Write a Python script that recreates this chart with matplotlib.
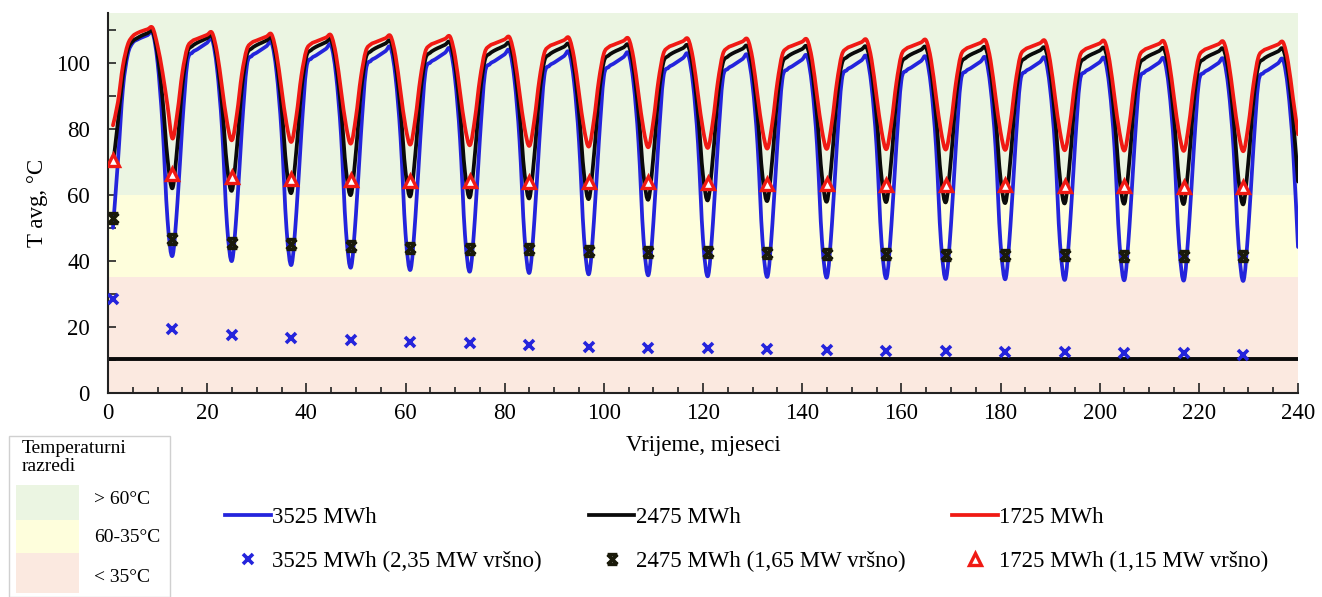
import numpy as np
import matplotlib
matplotlib.use('Agg')
import matplotlib.pyplot as plt
from matplotlib.path import Path
from matplotlib.patches import PathPatch, Rectangle
from matplotlib.lines import Line2D
from matplotlib.ticker import MultipleLocator

plt.rcParams['font.family'] = ['Liberation Serif', 'DejaVu Serif']

# ---------------- data ----------------
months = list(range(1, 241))

t_3525 = [
    50, 70, 92, 102.5, 106, 107, 107.7, 108.3, 109, 100, 81, 52.5,
    41.5, 57.5, 81.5, 100, 103, 104, 105, 106, 107, 98, 80, 51,
    40, 56, 80, 99, 102, 103, 104, 105, 106, 97, 78.8, 49.8,
    38.8, 54.8, 78.8, 98.2, 101.2, 102.2, 103.2, 104.2, 105.2, 96.2, 78, 49,
    38, 54, 78, 97.5, 100.5, 101.5, 102.5, 103.5, 104.5, 95.5, 77.3, 48.3,
    37.3, 53.3, 77.3, 97, 100, 101, 102, 103, 104, 95, 76.8, 47.8,
    36.8, 52.8, 76.8, 96.5, 99.5, 100.5, 101.5, 102.5, 103.5, 94.5, 76.4, 47.4,
    36.4, 52.4, 76.4, 96, 99, 100, 101, 102, 103, 94, 76, 47,
    36, 52, 76, 95.7, 98.7, 99.7, 100.7, 101.7, 102.7, 93.7, 75.7, 46.7,
    35.7, 51.7, 75.7, 95.4, 98.4, 99.4, 100.4, 101.4, 102.4, 93.4, 75.4, 46.4,
    35.4, 51.4, 75.4, 95.1, 98.1, 99.1, 100.1, 101.1, 102.1, 93.1, 75.2, 46.2,
    35.2, 51.2, 75.2, 94.9, 97.9, 98.9, 99.9, 100.9, 101.9, 92.9, 75, 46,
    35, 51, 75, 94.7, 97.7, 98.7, 99.7, 100.7, 101.7, 92.7, 74.8, 45.8,
    34.8, 50.8, 74.8, 94.5, 97.5, 98.5, 99.5, 100.5, 101.5, 92.5, 74.6, 45.6,
    34.6, 50.6, 74.6, 94.3, 97.3, 98.3, 99.3, 100.3, 101.3, 92.3, 74.5, 45.5,
    34.5, 50.5, 74.5, 94.2, 97.2, 98.2, 99.2, 100.2, 101.2, 92.2, 74.3, 45.3,
    34.3, 50.3, 74.3, 94.1, 97.1, 98.1, 99.1, 100.1, 101.1, 92.1, 74.2, 45.2,
    34.2, 50.2, 74.2, 94, 97, 98, 99, 100, 101, 92, 74.1, 45.1,
    34.1, 50.1, 74.1, 93.9, 96.9, 97.9, 98.9, 99.9, 100.9, 91.9, 74, 45,
    34, 50, 74, 93.8, 96.8, 97.8, 98.8, 99.8, 100.8, 91.8, 73.9, 44.2,
]

t_2475 = [
    69, 82, 96, 104, 106.5, 107.5, 108.3, 108.9, 109.5, 102.5, 89, 71,
    62, 75, 93, 103, 105, 106, 106.7, 107.4, 108, 101, 87.3, 68.8,
    61.3, 74.3, 92.3, 102.3, 104.3, 105.3, 106, 106.7, 107.3, 100.3, 86.6, 68.1,
    60.6, 73.6, 91.6, 101.8, 103.8, 104.8, 105.5, 106.2, 106.8, 99.8, 86, 67.5,
    60, 73, 91, 101.4, 103.4, 104.4, 105.1, 105.8, 106.4, 99.4, 85.6, 67.1,
    59.6, 72.6, 90.6, 101, 103, 104, 104.7, 105.4, 106, 99, 85.3, 66.8,
    59.3, 72.3, 90.3, 100.7, 102.7, 103.7, 104.4, 105.1, 105.7, 98.7, 85, 66.5,
    59, 72, 90, 100.4, 102.4, 103.4, 104.1, 104.8, 105.4, 98.4, 84.8, 66.3,
    58.8, 71.8, 89.8, 100.2, 102.2, 103.2, 103.9, 104.6, 105.2, 98.2, 84.6, 66.1,
    58.6, 71.6, 89.6, 100, 102, 103, 103.7, 104.4, 105, 98, 84.4, 65.9,
    58.4, 71.4, 89.4, 99.8, 101.8, 102.8, 103.5, 104.2, 104.8, 97.8, 84.2, 65.7,
    58.2, 71.2, 89.2, 99.7, 101.7, 102.7, 103.4, 104.1, 104.7, 97.7, 84, 65.5,
    58, 71, 89, 99.6, 101.6, 102.6, 103.3, 104, 104.6, 97.6, 83.9, 65.4,
    57.9, 70.9, 88.9, 99.5, 101.5, 102.5, 103.2, 103.9, 104.5, 97.5, 83.8, 65.3,
    57.8, 70.8, 88.8, 99.4, 101.4, 102.4, 103.1, 103.8, 104.4, 97.4, 83.6, 65.1,
    57.6, 70.6, 88.6, 99.3, 101.3, 102.3, 103, 103.7, 104.3, 97.3, 83.5, 65,
    57.5, 70.5, 88.5, 99.2, 101.2, 102.2, 102.9, 103.6, 104.2, 97.2, 83.4, 64.9,
    57.4, 70.4, 88.4, 99.1, 101.1, 102.1, 102.8, 103.5, 104.1, 97.1, 83.3, 64.8,
    57.3, 70.3, 88.3, 99, 101, 102, 102.7, 103.4, 104, 97, 83.2, 64.7,
    57.2, 70.2, 88.2, 99, 101, 102, 102.7, 103.4, 104, 97, 83.1, 64.0,
]

t_1725 = [
    81, 88, 99, 105.5, 108, 109, 109.6, 110.1, 110.5, 105, 97, 87,
    77, 85, 97, 104.5, 106.5, 107.2, 107.8, 108.4, 109, 103, 92.5, 82,
    76.5, 84.5, 96.5, 104, 106, 106.7, 107.3, 107.9, 108.5, 102.5, 92, 81.5,
    76, 84, 96, 103.7, 105.7, 106.4, 107, 107.6, 108.2, 102.2, 91.5, 81,
    75.5, 83.5, 95.5, 103.5, 105.5, 106.2, 106.8, 107.4, 108, 102, 91.2, 80.7,
    75.2, 83.2, 95.2, 103.3, 105.3, 106, 106.6, 107.2, 107.8, 101.8, 91, 80.5,
    75, 83, 95, 103.1, 105.1, 105.8, 106.4, 107, 107.6, 101.6, 90.8, 80.3,
    74.8, 82.8, 94.8, 102.9, 104.9, 105.6, 106.2, 106.8, 107.4, 101.4, 90.6, 80.1,
    74.6, 82.6, 94.6, 102.7, 104.7, 105.4, 106, 106.6, 107.2, 101.2, 90.4, 79.9,
    74.4, 82.4, 94.4, 102.6, 104.6, 105.3, 105.9, 106.5, 107.1, 101.1, 90.2, 79.7,
    74.2, 82.2, 94.2, 102.5, 104.5, 105.2, 105.8, 106.4, 107, 101, 90, 79.5,
    74, 82, 94, 102.4, 104.4, 105.1, 105.7, 106.3, 106.9, 100.9, 89.9, 79.4,
    73.9, 81.9, 93.9, 102.3, 104.3, 105, 105.6, 106.2, 106.8, 100.8, 89.8, 79.3,
    73.8, 81.8, 93.8, 102.2, 104.2, 104.9, 105.5, 106.1, 106.7, 100.7, 89.7, 79.2,
    73.7, 81.7, 93.7, 102.1, 104.1, 104.8, 105.4, 106, 106.6, 100.6, 89.6, 79.1,
    73.6, 81.6, 93.6, 102, 104, 104.7, 105.3, 105.9, 106.5, 100.5, 89.5, 79,
    73.5, 81.5, 93.5, 101.9, 103.9, 104.6, 105.2, 105.8, 106.4, 100.4, 89.4, 78.9,
    73.4, 81.4, 93.4, 101.8, 103.8, 104.5, 105.1, 105.7, 106.3, 100.3, 89.3, 78.8,
    73.3, 81.3, 93.3, 101.7, 103.7, 104.4, 105, 105.6, 106.2, 100.2, 89.2, 78.7,
    73.2, 81.2, 93.2, 101.6, 103.6, 104.3, 104.9, 105.5, 106.1, 100.1, 89.1, 78.3,
]

peak_months = [1, 13, 25, 37, 49, 61, 73, 85, 97, 109,
               121, 133, 145, 157, 169, 181, 193, 205, 217, 229]
peak_3525 = [28.5, 19.5, 17.5, 16.5, 16, 15.5, 15, 14.5, 14, 13.7,
             13.5, 13.2, 13, 12.8, 12.6, 12.5, 12.4, 12.2, 12.2, 11.6]
peak_2475 = [53, 46.5, 45.5, 45, 44.5, 44, 43.7, 43.5, 43, 42.8,
             42.6, 42.4, 42.2, 42, 41.9, 41.8, 41.7, 41.6, 41.5, 41.5]
peak_1725 = [70.5, 66.3, 65.3, 64.8, 64.5, 64.3, 64.1, 64, 63.9, 63.8,
             63.6, 63.4, 63.2, 63, 62.9, 62.8, 62.6, 62.5, 62.4, 62.3]

limit_line = 10.3

band_edges = [0, 35, 60, 115]
band_labels = ['< 35°C', '60-35°C', '> 60°C']
series_labels = ['3525 MWh', '2475 MWh', '1725 MWh']
marker_labels = ['3525 MWh (2,35 MW vršno)', '2475 MWh (1,65 MW vršno)',
                 '1725 MWh (1,15 MW vršno)']
x_ticks = [0, 20, 40, 60, 80, 100, 120, 140, 160, 180, 200, 220, 240]
y_ticks = [0, 20, 40, 60, 80, 100]

# ---------------- style ----------------
W, H = 1322, 597
BLUE = '#2424DC'
RED = '#F01A14'
BLACK = '#0a0a0a'
band_colors = ['#FBE9E0', '#FEFEDC', '#EBF5E2']
FS = 16.5


def smooth_path(xs, ys):
    pts = np.column_stack([xs, ys]).astype(float)
    n = len(pts)
    verts = [pts[0]]
    codes = [Path.MOVETO]
    for i in range(n - 1):
        p0 = pts[max(i - 1, 0)]
        p1 = pts[i]
        p2 = pts[i + 1]
        p3 = pts[min(i + 2, n - 1)]
        verts += [p1 + (p2 - p0) / 6.0, p2 - (p3 - p1) / 6.0, p2]
        codes += [Path.CURVE4] * 3
    return Path(verts, codes)


# hourglass-like cross marker
hx = Path([(-1, -1), (1, 1), (-1, 1), (1, -1), (-1, 1), (1, 1), (-1, -1), (1, -1)],
          [Path.MOVETO, Path.LINETO, Path.MOVETO, Path.LINETO,
           Path.MOVETO, Path.LINETO, Path.MOVETO, Path.LINETO])

fig = plt.figure(figsize=(W / 100, H / 100), dpi=100)
ax = fig.add_axes([108 / W, 1 - 393 / H, 1190 / W, 380 / H])

for i in range(3):
    ax.axhspan(band_edges[i], band_edges[i + 1], color=band_colors[i], lw=0, zorder=0)

ax.axhline(limit_line, color=BLACK, lw=2.8, zorder=2)

for ys, c in [(t_3525, BLUE), (t_2475, BLACK), (t_1725, RED)]:
    ax.add_patch(PathPatch(smooth_path(months, ys), facecolor='none', edgecolor=c,
                           lw=2.7, zorder=3, capstyle='round', joinstyle='round'))

ax.plot(peak_months, peak_3525, ls='none', marker='x', ms=7, mew=2.6, color=BLUE, zorder=5)
ax.plot(peak_months, peak_2475, ls='none', marker=hx, ms=7, mew=2.6, color='#1a1a0a', zorder=5)
ax.plot(peak_months, peak_1725, ls='none', marker='^', ms=8.5, mew=2.4, mfc='white',
        mec=RED, zorder=5)

ax.set_xlim(0, 240)
ax.set_ylim(0, 115)
ax.set_xticks(x_ticks)
ax.set_yticks(y_ticks)
ax.xaxis.set_minor_locator(MultipleLocator(5))
ax.yaxis.set_minor_locator(MultipleLocator(10))
ax.tick_params(axis='both', which='both', direction='in', color='#222222', width=1.2)
ax.tick_params(axis='x', which='major', length=7, pad=7, labelsize=FS)
ax.tick_params(axis='x', which='minor', length=4)
ax.tick_params(axis='y', which='major', length=6, pad=13, labelsize=FS)
ax.tick_params(axis='y', which='minor', length=6)
for s in ['top', 'right']:
    ax.spines[s].set_visible(False)
for s in ['left', 'bottom']:
    ax.spines[s].set_color('#222222')
    ax.spines[s].set_linewidth(1.5)

ax.set_xlabel('Vrijeme, mjeseci', fontsize=FS, labelpad=8)
ax.set_ylabel('T avg, °C', fontsize=FS, labelpad=6)

# bottom legend
handles = [
    Line2D([], [], color=BLUE, lw=2.7),
    Line2D([], [], ls='none', marker='x', ms=7, mew=2.6, color=BLUE),
    Line2D([], [], color=BLACK, lw=2.7),
    Line2D([], [], ls='none', marker=hx, ms=7, mew=2.6, color='#1a1a0a'),
    Line2D([], [], color=RED, lw=2.7),
    Line2D([], [], ls='none', marker='^', ms=8.5, mew=2.4, mfc='white', mec=RED),
]
labels = [series_labels[0], marker_labels[0], series_labels[1], marker_labels[1],
          series_labels[2], marker_labels[2]]
fig.legend(handles, labels, ncol=3, loc='upper left',
           bbox_to_anchor=(225 / W, 1 - 507 / H), frameon=False, fontsize=FS,
           handlelength=2.0, handletextpad=0.05, columnspacing=2.05,
           labelspacing=1.0, borderpad=0, borderaxespad=0)

# temperature class legend (left)
fig.patches.append(Rectangle((9 / W, 0), 161 / W, 1 - 436 / H, transform=fig.transFigure,
                             facecolor='white', edgecolor='#d0d0d0', lw=1.0, zorder=1))
fig.text(22 / W, 1 - 440 / H, 'Temperaturni\nrazredi', fontsize=14, va='top', ha='left',
         linespacing=1.05)
boxes = [(553, 593), (520, 553), (485, 520)]
label_y = [577, 538, 499]
for i in range(3):
    y0, y1 = boxes[i]
    fig.patches.append(Rectangle((16 / W, 1 - y1 / H), 63 / W, (y1 - y0) / H,
                                 transform=fig.transFigure, facecolor=band_colors[i],
                                 edgecolor='none', zorder=2))
    fig.text(94 / W, 1 - label_y[i] / H, band_labels[i], fontsize=14, va='center', ha='left')

fig.savefig('out.png', dpi=100)
